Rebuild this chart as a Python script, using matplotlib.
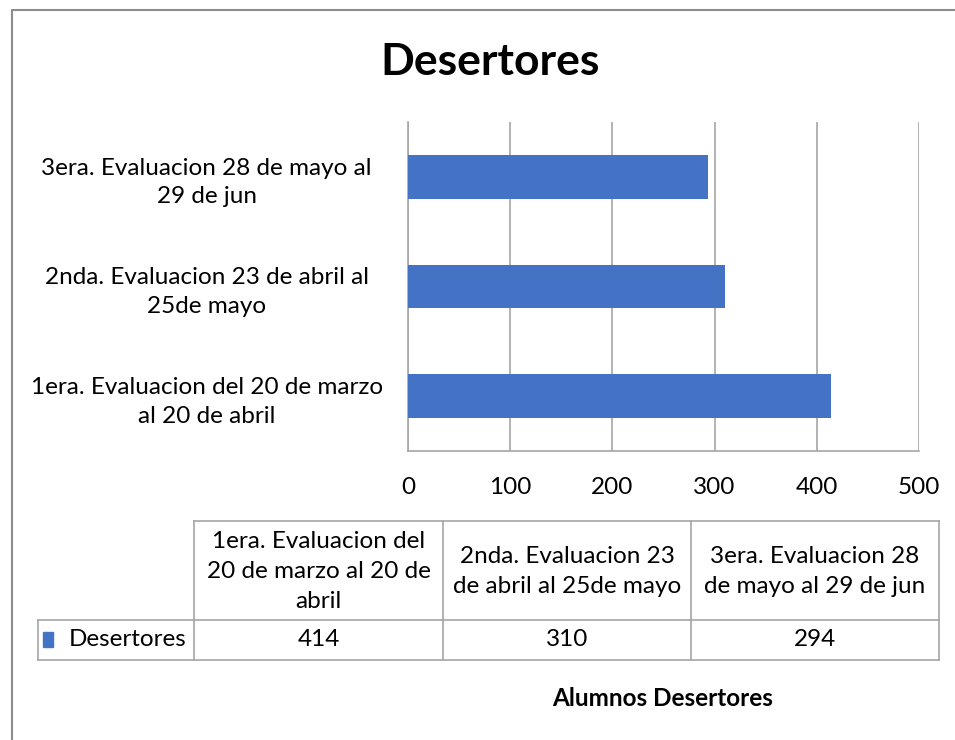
import matplotlib.pyplot as plt

plt.rcParams['font.family'] = ['Lato', 'DejaVu Sans']

categorias = ['1era. Evaluacion del 20 de marzo\nal 20 de abril',
              '2nda. Evaluacion 23 de abril al\n25de mayo',
              '3era. Evaluacion 28 de mayo al\n29 de jun']
encabezados = ['1era. Evaluacion del\n20 de marzo al 20 de\nabril',
               '2nda. Evaluacion 23\nde abril al 25de mayo',
               '3era. Evaluacion 28\nde mayo al 29 de jun']
desertores = [414, 310, 294]
ticks_x = [0, 100, 200, 300, 400, 500]

azul = '#4472C4'
gris = '#A6A6A6'
W, H = 955, 740

fig = plt.figure(figsize=(W / 100, H / 100), dpi=100)

# area del grafico de barras
ax = fig.add_axes([408 / W, 1 - 451 / H, (919 - 408) / W, (451 - 122) / H])
ax.barh(range(len(desertores)), desertores, height=0.4, color=azul, zorder=3)
ax.set_xlim(0, 500)
ax.set_ylim(-0.5, len(desertores) - 0.5)
ax.set_xticks(ticks_x)
ax.set_yticks(range(len(categorias)))
ax.set_yticklabels(categorias, fontsize=17.5, ha='center', multialignment='center',
                   linespacing=1.45)
ax.tick_params(axis='y', length=0, pad=145)
ax.tick_params(axis='x', length=0, pad=19, labelsize=17.5)
ax.grid(axis='x', color=gris, linewidth=1.2, zorder=0)
for lado in ['top', 'right']:
    ax.spines[lado].set_visible(False)
ax.spines['left'].set_color(gris)
ax.spines['bottom'].set_color(gris)
ax.spines['left'].set_linewidth(1.2)
ax.spines['bottom'].set_linewidth(1.2)

# capa para el marco, la tabla de datos y los textos
ov = fig.add_axes([0, 0, 1, 1])
ov.set_xlim(0, W)
ov.set_ylim(H, 0)
ov.axis('off')
ov.patch.set_alpha(0)

ov.plot([12, 12, W], [H, 10, 10], color='#8C8C8C', linewidth=1.5)

ov.text(490, 62, 'Desertores', ha='center', va='center', fontsize=32, fontweight='bold')

cols = [38, 194, 443, 691, 939]
fila_top, fila_mid, fila_bot = 521, 620, 660
lc = dict(color=gris, linewidth=1.2)
ov.plot([cols[1], cols[-1]], [fila_top, fila_top], **lc)
ov.plot([cols[0], cols[-1]], [fila_mid, fila_mid], **lc)
ov.plot([cols[0], cols[-1]], [fila_bot, fila_bot], **lc)
ov.plot([cols[0], cols[0]], [fila_mid, fila_bot], **lc)
for x in cols[1:]:
    ov.plot([x, x], [fila_top, fila_bot], **lc)

for i, (enc, val) in enumerate(zip(encabezados, desertores)):
    xc = (cols[i + 1] + cols[i + 2]) / 2
    ov.text(xc, (fila_top + fila_mid) / 2 + 1, enc, ha='center', va='center',
            fontsize=17.5, linespacing=1.55)
    ov.text(xc, (fila_mid + fila_bot) / 2, str(val), ha='center', va='center', fontsize=17.5)

ov.add_patch(plt.Rectangle((43, 632), 10, 15, color=azul))
ov.text(69, (fila_mid + fila_bot) / 2, 'Desertores', ha='left', va='center', fontsize=17.5)

ov.text(663, 698, 'Alumnos Desertores', ha='center', va='center', fontsize=17.5, fontweight='bold')

fig.savefig('out.png', dpi=100)
